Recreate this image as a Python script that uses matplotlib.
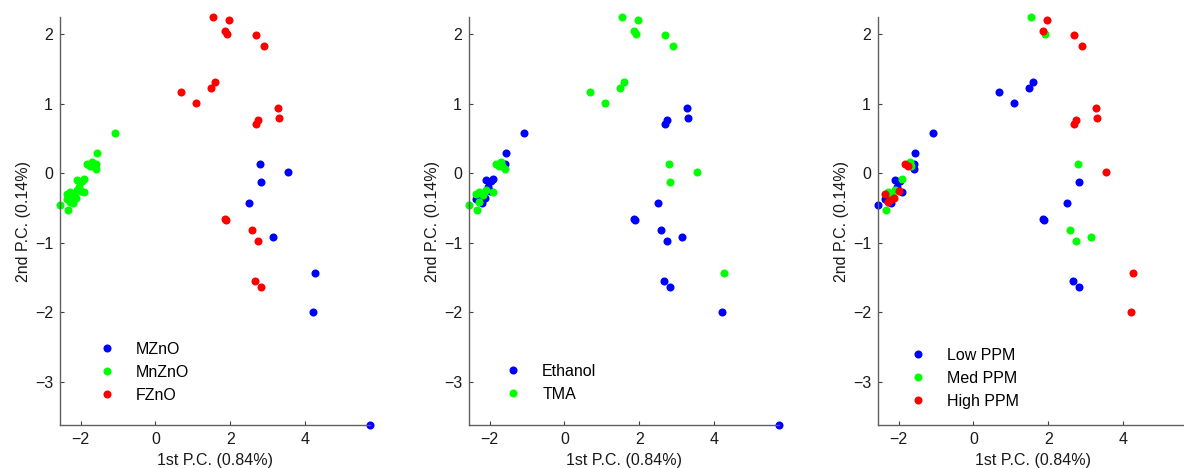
import numpy as np
import matplotlib
matplotlib.use("Agg")
import matplotlib.pyplot as plt

plt.rcParams['font.family'] = ['Liberation Sans', 'DejaVu Sans']

# scores on the first two principal components, one entry per sample
pc1 = [-1.08, -1.57, -1.58, -1.60, -1.84, -1.76, -1.70, -1.66, -2.09, -1.92,
       -1.96, -2.05, -2.00, -1.91, -2.09, -2.35, -2.27, -2.18, -2.13, -2.22,
       -2.20, -2.37, -2.55, -2.33, -2.28,
       1.53, 1.96, 1.85, 1.91, 2.68, 2.89, 0.69, 1.09, 1.48, 1.58,
       3.27, 3.31, 2.75, 2.68, 1.86, 1.88, 2.59, 2.75, 2.67, 2.82,
       2.80, 3.53, 2.83, 2.49, 3.15, 4.27, 4.22, 5.73]
pc2 = [0.58, 0.30, 0.13, 0.06, 0.13, 0.11, 0.16, 0.10, -0.10, -0.08,
       -0.11, -0.19, -0.25, -0.27, -0.24, -0.30, -0.27, -0.31, -0.35, -0.38,
       -0.42, -0.37, -0.46, -0.53, -0.41,
       2.25, 2.20, 2.05, 2.01, 1.99, 1.83, 1.17, 1.01, 1.23, 1.31,
       0.94, 0.79, 0.77, 0.71, -0.66, -0.67, -0.82, -0.97, -1.55, -1.63,
       0.13, 0.02, -0.13, -0.43, -0.91, -1.44, -1.99, -3.62]
material = ['MnZnO'] * 25 + ['FZnO'] * 20 + ['MZnO'] * 8
gas = ['E', 'E', 'E', 'T', 'T', 'T', 'T', 'T', 'E', 'E',
       'E', 'E', 'E', 'T', 'T', 'T', 'T', 'T', 'E', 'E',
       'E', 'E', 'T', 'T', 'T',
       'T', 'T', 'T', 'T', 'T', 'T', 'T', 'T', 'T', 'T',
       'E', 'E', 'E', 'E', 'E', 'E', 'E', 'E', 'E', 'E',
       'T', 'T', 'T', 'E', 'E', 'T', 'E', 'E']
ppm = ['L', 'L', 'L', 'L', 'H', 'H', 'M', 'M', 'L', 'M',
       'L', 'L', 'H', 'L', 'M', 'H', 'M', 'M', 'H', 'H',
       'L', 'L', 'L', 'M', 'H',
       'M', 'H', 'H', 'M', 'H', 'H', 'L', 'L', 'L', 'L',
       'H', 'H', 'H', 'H', 'L', 'L', 'M', 'M', 'L', 'L',
       'M', 'H', 'L', 'L', 'M', 'H', 'H', 'L']

panels = [
    (material, ['MZnO', 'MnZnO', 'FZnO'], ['MZnO', 'MnZnO', 'FZnO']),
    (gas, ['E', 'T'], ['Ethanol', 'TMA']),
    (ppm, ['L', 'M', 'H'], ['Low PPM', 'Med PPM', 'High PPM']),
]
colors = ['#0000ff', '#00ff00', '#ff0000']

W, H = 1184, 468
fig = plt.figure(figsize=(W / 100, H / 100), dpi=100)

x = np.array(pc1)
y = np.array(pc2)
lefts = [60, 469, 878]
leg_x = [0.105, 0.097, 0.082]
leg_y = [0.22, 0.165, 0.205]
fs = 11.5

for i, (labels, groups, names) in enumerate(panels):
    ax = fig.add_axes([lefts[i] / W, 43 / H, 310 / W, 408 / H])
    lab = np.array(labels)
    for g, name, c in zip(groups, names, colors):
        m = lab == g
        ax.plot(x[m], y[m], 'o', color=c, markersize=5.8, markeredgewidth=0,
                label=name, clip_on=False)
    ax.set_xlim(x.min(), x.max())
    ax.set_ylim(y.min(), y.max())
    ax.set_xticks([-2, 0, 2, 4])
    ax.set_yticks([-3, -2, -1, 0, 1, 2])
    ax.set_xticklabels(['\u22122', '0', '2', '4'])
    ax.set_yticklabels(['\u22123', '\u22122', '\u22121', '0', '1', '2'])
    for s in ['top', 'right']:
        ax.spines[s].set_visible(False)
    for s in ['left', 'bottom']:
        ax.spines[s].set_color('#606060')
        ax.spines[s].set_linewidth(1.0)
    ax.tick_params(direction='in', length=3, width=0.8, color='#404040',
                   labelsize=fs, labelcolor='#1a1a1a', pad=5)
    ax.set_xlabel('1st P.C. (0.84%)', fontsize=fs, color='#1a1a1a', labelpad=4)
    ax.set_ylabel('2nd P.C. (0.14%)', fontsize=fs, color='#1a1a1a', labelpad=3)
    ax.legend(loc='upper left', bbox_to_anchor=(leg_x[i], leg_y[i]),
              borderaxespad=0, frameon=False, fontsize=fs,
              handlelength=1, handletextpad=1.3, labelspacing=0.5,
              numpoints=1)

fig.savefig('out.png', dpi=100)
